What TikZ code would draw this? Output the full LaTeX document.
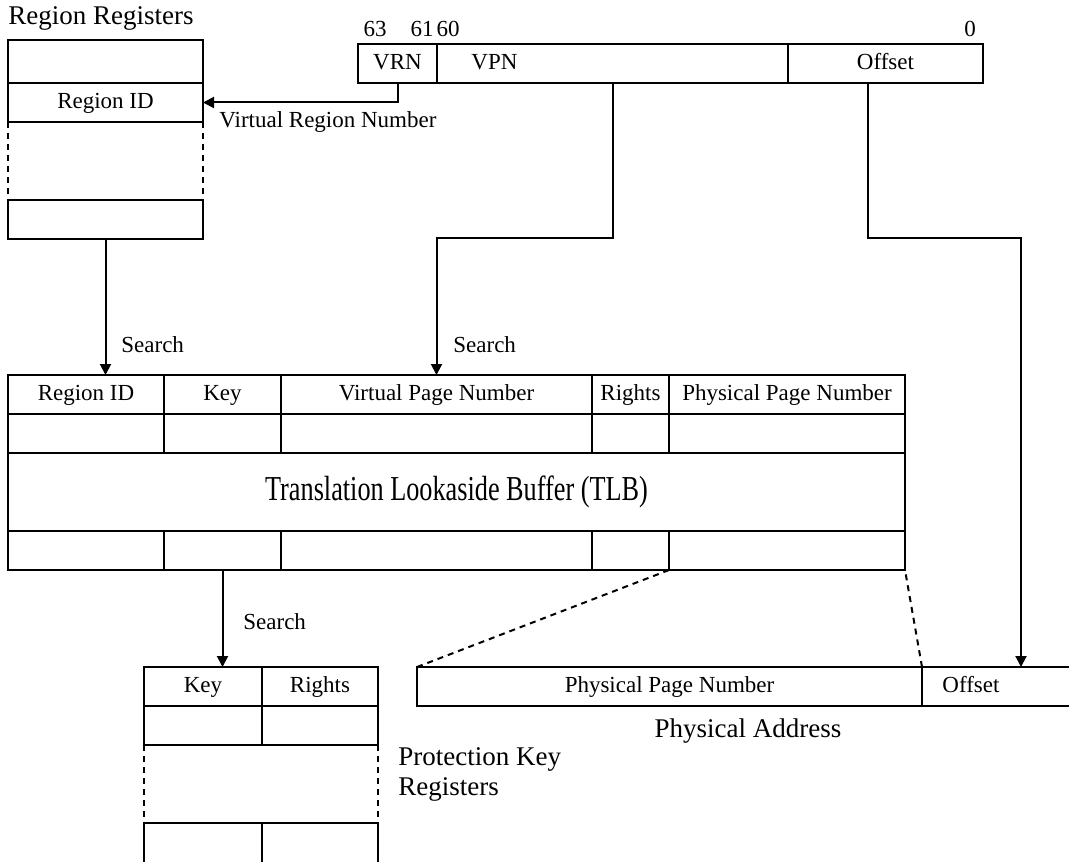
\documentclass[tikz,border=0pt]{standalone}
\usepackage{fontspec}
\setmainfont{Liberation Serif}
\usepackage{graphicx}
\usetikzlibrary{arrows.meta,positioning,fit}

\begin{document}
\begin{tikzpicture}[
  x=0.5pt, y=-0.5pt,
  node distance=0pt,
  cell/.style={draw, line width=1pt, inner sep=0pt, outer sep=0pt, minimum height=19.5pt,
    text height=8.6pt, text depth=2.2pt, font=\fontsize{11.5}{13}\selectfont},
  lbl/.style={inner sep=0pt, font=\fontsize{11.5}{13}\selectfont},
  head/.style={inner sep=0pt, align=left, font=\fontsize{13.5}{15}\selectfont},
  arr/.style={-{Triangle[length=5.5pt,width=5.5pt]}, line width=1pt},
  gap/.style={line width=1pt, dash pattern=on 3pt off 2.5pt}
]
  \clip (0,0) rectangle (1069,861);

  % region registers
  \node[head, anchor=base west] (rrtitle) at (8,25) {Region Registers};
  \node[cell, minimum width=97.5pt, minimum height=21.5pt, anchor=north west] (rr1) at (8,40) {};
  \node[cell, minimum width=97.5pt, below=of rr1] (rr2) {Region ID};
  \node[cell, minimum width=97.5pt, anchor=north west] (rr3) at (8,200) {};
  \draw[gap] (rr2.south west) -- (rr3.north west);
  \draw[gap] (rr2.south east) -- (rr3.north east);

  % virtual address
  \node[cell, minimum width=39.5pt, anchor=north west] (vrn) at (358,44) {VRN};
  \node[cell, minimum width=175.5pt, right=of vrn] (vpn) {};
  \node[cell, minimum width=97.5pt, right=of vpn] (voff) {Offset};
  \node[lbl, anchor=base west] (vpntxt) at ([xshift=17pt,yshift=-3.2pt]vpn.west) {VPN};
  \node[lbl, anchor=base] (b63) at (375,37) {63};
  \node[lbl, anchor=base] (b61) at (422,37) {61};
  \node[lbl, anchor=base] (b60) at (448,37) {60};
  \node[lbl, anchor=base] (b0) at (970,37) {0};

  \draw[arr] (vrn.south) |- (rr2.east);
  \node[lbl, anchor=base west] (vrnlbl) at (219,128) {Virtual Region Number};

  % TLB
  \node[cell, minimum width=78pt, anchor=north west] (tid) at (8,375) {Region ID};
  \node[cell, minimum width=58.5pt, right=of tid] (tkey) {Key};
  \node[cell, minimum width=155.5pt, right=of tkey] (tvpn) {Virtual Page Number};
  \node[cell, minimum width=38.5pt, right=of tvpn] (trig) {Rights};
  \node[cell, minimum width=118pt, right=of trig] (tppn) {Physical Page Number};
  \node[cell, minimum width=448.5pt, minimum height=39pt, text height=12pt, text depth=4pt,
    anchor=north west] (tlb) at (8,453)
    {\scalebox{0.75}[1]{\fontsize{17.5}{20}\selectfont Translation Lookaside Buffer (TLB)}};
  \coordinate (tlbbot) at (8,570);
  \foreach \c in {tid,tkey,tvpn,trig,tppn} {
    \node[cell, fit={(\c.south west) (\c.east |- tlb.north)}] (\c2) {};
    \node[cell, fit={(\c.west |- tlb.south) (\c.east |- tlbbot)}] (\c4) {};
  }

  \draw[arr] (rr3.south) -- (rr3.south |- tid.north);
  \node[lbl, anchor=base west] (srch1) at (121,352) {Search};
  \draw[arr] (vpn.south) -- ++(0,155) -| (tvpn.north);
  \node[lbl, anchor=base west] (srch2) at (453,352) {Search};

  % physical address
  \node[cell, minimum width=252.5pt, anchor=north west] (pappn) at (417,667) {Physical Page Number};
  \node[cell, minimum width=90pt, right=of pappn] (paoff) {};
  \node[lbl, anchor=base west] (paofftxt) at ([xshift=10pt,yshift=-3.2pt]paoff.west) {Offset};
  \node[head, anchor=base] (patitle) at (748,737) {Physical Address};
  \draw[gap] (pappn.north west) -- (tppn4.south west);
  \draw[gap] (pappn.north east) -- (tppn4.south east);
  \draw[arr] ([xshift=-9pt]voff.south) -- ++(0,155) -| ([xshift=4.5pt]paoff.north);

  % protection key registers
  \node[cell, minimum width=59pt, anchor=north west] (pkkey) at (144,667) {Key};
  \node[cell, minimum width=58pt, right=of pkkey] (pkrig) {Rights};
  \foreach \c in {pkkey,pkrig} {
    \node[cell, fit={(\c.south west) ([yshift=-19.5pt]\c.south east)}] (\c2) {};
    \node[cell, fit={([yshift=-58.5pt]\c.south west) ([yshift=-79pt]\c.south east)}] (\c3) {};
  }
  \draw[gap] (pkkey2.south west) -- (pkkey3.north west);
  \draw[gap] (pkrig2.south east) -- (pkrig3.north east);
  \draw[arr] (tkey4.south) -- (tkey4.south |- pkkey.north);
  \node[lbl, anchor=base west] (srch3) at (243,629) {Search};
  \node[head, anchor=north west] (pktitle) at (398,747) {Protection Key\\Registers};
\end{tikzpicture}
\end{document}
